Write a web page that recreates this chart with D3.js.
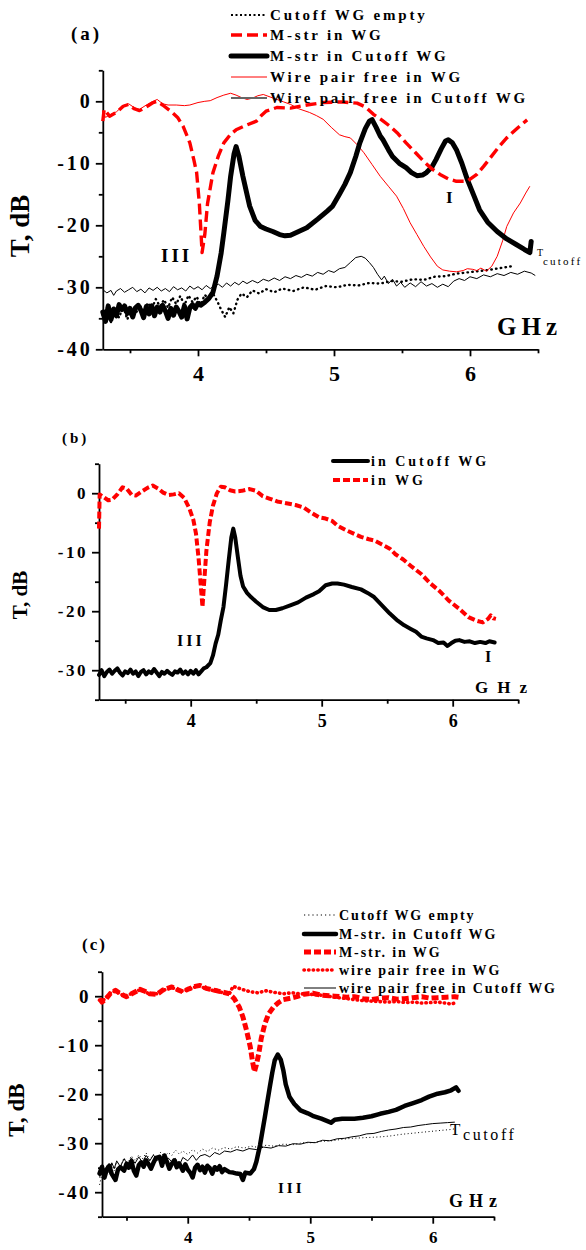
<!DOCTYPE html>
<html lang="en">
<head>
<meta charset="UTF-8">
<title>Transmission spectra</title>
<script src="https://d3js.org/d3.v7.min.js"></script>
<style>
  body { margin: 0; background: #fff; }
  svg text { font-family: "Liberation Serif", "Times New Roman", serif; fill: #000; }
  .axis path, .axis line { stroke: #000; stroke-width: 1.8; }
</style>
</head>
<body>
<script>
// ---------- data (frequency GHz, transmission dB) ----------
var freqDomain = [3.3, 6.5];
var freqMajor = [4, 5, 6];
var freqMinor = [3.5, 4.5, 5.5, 6.5];

// panel (a)
var aCutoffEmpty = [[3.30,-34.5],[3.33,-33.2],[3.36,-35.6],[3.39,-33.8],[3.42,-34.9],[3.45,-33.0],[3.48,-35.2],[3.51,-33.6],[3.54,-34.4],[3.57,-32.8],[3.60,-34.0],[3.63,-32.5],[3.66,-33.4],[3.69,-31.9],[3.72,-33.1],[3.75,-32.0],[3.78,-33.3],[3.81,-31.6],[3.84,-32.7],[3.87,-31.4],[3.90,-32.9],[3.93,-31.3],[3.96,-32.4],[3.99,-31.5],[4.02,-32.8],[4.05,-31.2],[4.08,-32.0],[4.11,-31.0],[4.14,-32.2],[4.17,-33.6],[4.20,-34.8],[4.23,-33.2],[4.26,-34.2],[4.29,-32.0],[4.32,-31.0],[4.36,-31.6],[4.40,-30.5],[4.45,-31.0],[4.50,-30.3],[4.56,-30.8],[4.62,-30.2],[4.70,-30.6],[4.78,-30.0],[4.86,-30.4],[4.94,-29.8],[5.02,-30.0],[5.10,-29.6],[5.18,-29.7],[5.26,-29.3],[5.34,-29.4],[5.42,-29.0],[5.50,-29.1],[5.58,-28.7],[5.66,-28.8],[5.74,-28.3],[5.82,-28.2],[5.90,-27.8],[5.98,-27.6],[6.06,-27.4],[6.14,-27.2],[6.22,-26.9],[6.31,-26.6]];
var aMstrWG = [[3.30,-3.2],[3.31,-1.3],[3.35,-2.4],[3.40,-1.8],[3.45,-0.8],[3.49,-0.5],[3.53,-1.2],[3.57,-1.5],[3.62,-0.9],[3.67,-0.2],[3.70,0.0],[3.74,-0.6],[3.80,-1.6],[3.85,-2.6],[3.89,-4.0],[3.94,-6.7],[3.97,-9.5],[3.99,-11.5],[4.01,-16.5],[4.03,-24.4],[4.05,-21.5],[4.07,-16.5],[4.11,-11.5],[4.15,-8.8],[4.19,-6.7],[4.24,-5.3],[4.28,-4.6],[4.35,-3.9],[4.43,-3.2],[4.47,-2.2],[4.50,-1.6],[4.58,-1.0],[4.68,-1.1],[4.80,-0.6],[4.92,-0.2],[5.05,-0.1],[5.17,-0.3],[5.23,-0.9],[5.29,-2.1],[5.35,-3.0],[5.41,-4.0],[5.47,-5.2],[5.53,-6.7],[5.60,-8.3],[5.66,-9.7],[5.72,-10.9],[5.78,-11.8],[5.84,-12.5],[5.90,-12.9],[5.98,-12.9],[6.05,-11.8],[6.10,-10.5],[6.15,-9.1],[6.21,-7.4],[6.27,-5.9],[6.35,-4.3],[6.42,-3.0]];
var aMstrCutoff = [[3.30,-34.0],[3.32,-35.5],[3.34,-33.0],[3.36,-35.2],[3.38,-33.5],[3.40,-34.6],[3.42,-32.8],[3.44,-33.6],[3.46,-33.0],[3.48,-34.2],[3.50,-33.4],[3.52,-34.8],[3.54,-33.3],[3.56,-32.9],[3.58,-33.7],[3.60,-34.9],[3.62,-33.1],[3.64,-34.3],[3.66,-33.0],[3.68,-34.6],[3.70,-33.2],[3.72,-34.0],[3.74,-32.9],[3.76,-33.8],[3.78,-35.0],[3.80,-33.4],[3.82,-34.5],[3.84,-33.2],[3.86,-33.9],[3.88,-34.8],[3.90,-33.0],[3.92,-35.1],[3.94,-33.3],[3.96,-32.8],[3.98,-33.4],[4.00,-32.6],[4.02,-32.9],[4.05,-32.4],[4.08,-31.8],[4.11,-30.8],[4.14,-28.2],[4.17,-24.5],[4.19,-21.2],[4.22,-16.0],[4.24,-12.1],[4.265,-8.5],[4.28,-7.3],[4.30,-8.8],[4.33,-12.1],[4.36,-15.0],[4.38,-16.9],[4.42,-19.2],[4.46,-20.2],[4.50,-20.6],[4.55,-21.0],[4.60,-21.5],[4.64,-21.7],[4.68,-21.6],[4.74,-21.0],[4.80,-20.4],[4.88,-19.0],[4.95,-17.7],[4.99,-16.9],[5.04,-15.0],[5.08,-13.4],[5.12,-11.5],[5.16,-8.9],[5.19,-6.7],[5.23,-4.4],[5.26,-3.2],[5.28,-2.95],[5.31,-4.2],[5.34,-5.6],[5.36,-6.2],[5.40,-7.8],[5.43,-8.9],[5.48,-10.0],[5.53,-10.7],[5.57,-11.5],[5.61,-12.0],[5.65,-11.9],[5.68,-11.5],[5.72,-10.6],[5.75,-9.4],[5.79,-7.6],[5.82,-6.4],[5.84,-6.2],[5.87,-6.7],[5.90,-7.8],[5.94,-10.0],[5.98,-12.6],[6.03,-15.3],[6.07,-17.5],[6.13,-19.5],[6.20,-21.0],[6.27,-22.2],[6.34,-23.1],[6.40,-23.9],[6.44,-24.4],[6.45,-22.6]];
var aWireWG = [[3.30,-1.6],[3.32,-2.6],[3.35,-2.2],[3.40,-1.7],[3.45,-0.7],[3.49,-0.4],[3.53,-1.0],[3.57,-1.3],[3.62,-0.6],[3.67,0.0],[3.70,0.3],[3.74,-0.4],[3.78,-0.6],[3.84,-0.6],[3.90,-0.7],[3.94,-0.6],[4.00,-0.2],[4.05,0.0],[4.09,0.1],[4.14,0.6],[4.19,1.0],[4.24,1.3],[4.28,1.0],[4.32,0.6],[4.36,0.3],[4.40,0.5],[4.44,0.9],[4.48,1.1],[4.53,0.7],[4.58,0.3],[4.63,-0.1],[4.68,-0.5],[4.74,-1.2],[4.82,-1.8],[4.87,-2.3],[4.92,-2.9],[4.98,-4.2],[5.04,-5.4],[5.08,-5.7],[5.12,-5.9],[5.17,-7.0],[5.22,-8.3],[5.28,-10.2],[5.34,-12.1],[5.40,-13.7],[5.46,-15.3],[5.51,-17.3],[5.56,-19.6],[5.61,-21.5],[5.66,-23.4],[5.71,-25.1],[5.76,-26.6],[5.80,-27.2],[5.85,-27.4],[5.90,-27.5],[5.95,-27.3],[5.98,-27.0],[6.02,-27.1],[6.05,-27.3],[6.08,-26.9],[6.12,-27.4],[6.16,-26.6],[6.20,-25.0],[6.24,-22.5],[6.27,-20.2],[6.32,-18.0],[6.37,-16.4],[6.41,-14.8],[6.44,-13.7]];
var aWireCutoff = [[3.30,-30.4],[3.33,-30.9],[3.36,-30.5],[3.38,-31.3],[3.40,-30.6],[3.43,-30.2],[3.46,-30.8],[3.49,-30.4],[3.52,-30.0],[3.55,-30.7],[3.58,-30.3],[3.61,-30.9],[3.64,-30.1],[3.67,-30.5],[3.70,-30.0],[3.73,-30.6],[3.76,-30.2],[3.79,-30.7],[3.82,-29.9],[3.85,-30.4],[3.88,-30.1],[3.91,-30.6],[3.94,-29.8],[3.97,-30.3],[4.00,-29.9],[4.03,-30.4],[4.06,-29.7],[4.09,-30.2],[4.12,-29.8],[4.15,-29.5],[4.18,-30.0],[4.21,-29.3],[4.24,-29.8],[4.27,-29.2],[4.30,-29.6],[4.33,-29.0],[4.36,-29.4],[4.40,-28.9],[4.44,-29.3],[4.48,-28.7],[4.52,-29.0],[4.56,-28.5],[4.60,-28.9],[4.64,-28.3],[4.68,-28.6],[4.72,-28.1],[4.76,-28.4],[4.80,-27.9],[4.84,-28.2],[4.88,-27.6],[4.92,-27.9],[4.96,-27.3],[5.00,-27.6],[5.04,-27.0],[5.08,-26.8],[5.12,-26.0],[5.16,-25.2],[5.20,-25.0],[5.23,-25.3],[5.26,-26.0],[5.29,-26.8],[5.32,-27.9],[5.35,-28.8],[5.37,-28.2],[5.40,-29.4],[5.43,-28.7],[5.46,-29.8],[5.49,-29.2],[5.52,-30.0],[5.56,-29.3],[5.60,-29.9],[5.64,-29.1],[5.68,-29.8],[5.72,-29.4],[5.76,-30.0],[5.80,-29.5],[5.84,-29.9],[5.88,-29.0],[5.92,-28.6],[5.96,-28.9],[6.00,-28.3],[6.05,-28.6],[6.10,-28.0],[6.15,-28.3],[6.20,-27.8],[6.25,-28.1],[6.30,-27.6],[6.35,-27.9],[6.40,-27.4],[6.45,-27.7],[6.48,-28.1]];

// panel (b)
var bWG = [[3.30,-6.0],[3.305,-0.2],[3.33,-0.6],[3.37,-1.2],[3.40,-1.1],[3.44,-0.2],[3.48,1.0],[3.51,0.8],[3.55,-0.3],[3.58,-0.4],[3.62,0.2],[3.67,0.9],[3.71,1.3],[3.75,0.8],[3.79,0.1],[3.83,-0.3],[3.87,-0.2],[3.91,0.0],[3.95,-0.8],[3.99,-2.6],[4.02,-4.5],[4.04,-6.8],[4.06,-11.0],[4.08,-16.5],[4.09,-19.3],[4.10,-16.0],[4.12,-9.7],[4.145,-5.0],[4.17,-2.1],[4.20,0.0],[4.23,1.1],[4.26,1.0],[4.30,0.5],[4.34,0.3],[4.39,0.4],[4.45,0.7],[4.50,0.4],[4.55,-0.5],[4.60,-0.9],[4.66,-1.4],[4.73,-1.7],[4.80,-2.0],[4.86,-2.4],[4.92,-3.3],[4.98,-4.1],[5.03,-4.3],[5.08,-4.7],[5.12,-5.5],[5.18,-6.2],[5.24,-6.8],[5.30,-7.4],[5.36,-7.8],[5.40,-8.0],[5.46,-8.7],[5.52,-9.4],[5.56,-10.3],[5.62,-11.2],[5.69,-12.5],[5.76,-13.7],[5.83,-15.3],[5.90,-16.6],[5.97,-18.2],[6.05,-19.6],[6.12,-21.0],[6.18,-21.6],[6.23,-21.9],[6.27,-21.3],[6.29,-20.7],[6.31,-21.2],[6.33,-21.3]];
var bCutoff = [[3.30,-30.8],[3.32,-30.0],[3.34,-31.0],[3.36,-30.3],[3.38,-29.9],[3.40,-30.6],[3.42,-30.1],[3.44,-29.7],[3.46,-30.4],[3.48,-30.9],[3.50,-30.2],[3.52,-30.5],[3.54,-29.9],[3.56,-30.6],[3.58,-30.2],[3.60,-31.0],[3.62,-30.3],[3.64,-30.0],[3.66,-30.7],[3.68,-30.2],[3.70,-30.5],[3.72,-29.8],[3.74,-30.4],[3.76,-31.0],[3.78,-30.3],[3.80,-30.6],[3.82,-30.1],[3.84,-30.5],[3.86,-30.8],[3.88,-30.2],[3.90,-30.4],[3.92,-29.9],[3.94,-30.6],[3.96,-30.2],[3.98,-30.7],[4.00,-30.1],[4.02,-30.6],[4.04,-30.0],[4.06,-30.7],[4.08,-30.2],[4.10,-29.7],[4.12,-29.5],[4.15,-28.8],[4.17,-27.5],[4.19,-25.5],[4.21,-24.0],[4.23,-21.5],[4.25,-19.3],[4.27,-15.5],[4.29,-11.4],[4.31,-7.5],[4.325,-6.0],[4.34,-7.5],[4.36,-10.8],[4.38,-14.0],[4.40,-15.8],[4.43,-16.9],[4.46,-17.6],[4.50,-18.4],[4.55,-19.3],[4.60,-19.8],[4.65,-19.8],[4.70,-19.5],[4.76,-19.0],[4.82,-18.5],[4.88,-17.7],[4.94,-17.1],[4.98,-16.6],[5.03,-15.6],[5.08,-15.3],[5.12,-15.3],[5.17,-15.5],[5.23,-15.9],[5.30,-16.3],[5.35,-16.9],[5.40,-17.6],[5.46,-19.0],[5.52,-20.4],[5.58,-21.6],[5.63,-22.4],[5.68,-23.0],[5.72,-23.5],[5.76,-24.3],[5.80,-24.6],[5.85,-24.9],[5.89,-25.4],[5.93,-25.3],[5.96,-25.9],[5.99,-25.4],[6.02,-25.0],[6.05,-24.9],[6.09,-25.2],[6.13,-25.1],[6.17,-25.4],[6.21,-25.2],[6.25,-25.4],[6.28,-25.1],[6.32,-25.3]];

// panel (c)
var cCutoffEmpty = [[3.28,-38.5],[3.30,-36.2],[3.32,-37.5],[3.34,-35.0],[3.36,-36.4],[3.38,-34.2],[3.40,-35.6],[3.42,-33.8],[3.45,-34.6],[3.48,-33.0],[3.51,-34.0],[3.54,-32.6],[3.57,-33.6],[3.60,-32.4],[3.63,-33.2],[3.66,-32.0],[3.69,-33.4],[3.72,-32.3],[3.75,-32.9],[3.78,-31.8],[3.81,-32.8],[3.84,-31.9],[3.87,-32.5],[3.90,-31.4],[3.93,-32.2],[3.96,-31.6],[4.00,-32.3],[4.04,-31.3],[4.08,-32.0],[4.12,-31.2],[4.16,-31.7],[4.20,-31.0],[4.25,-31.4],[4.30,-30.9],[4.35,-31.2],[4.40,-30.7],[4.46,-31.0],[4.52,-30.6],[4.58,-30.9],[4.64,-30.4],[4.70,-30.6],[4.78,-30.2],[4.86,-30.3],[4.94,-29.9],[5.02,-29.9],[5.10,-29.6],[5.18,-29.5],[5.26,-29.2],[5.34,-29.0],[5.42,-28.9],[5.50,-28.8],[5.58,-28.7],[5.66,-28.5],[5.74,-28.2],[5.82,-28.0],[5.90,-27.8],[5.98,-27.6],[6.06,-27.4],[6.15,-27.2],[6.19,-27.0]];
var cMstrCutoff = [[3.28,-36.2],[3.30,-34.8],[3.32,-37.0],[3.34,-35.3],[3.36,-34.6],[3.38,-36.3],[3.41,-37.5],[3.43,-35.4],[3.45,-34.9],[3.48,-35.6],[3.50,-34.2],[3.52,-35.0],[3.54,-33.7],[3.56,-35.6],[3.58,-36.6],[3.60,-34.5],[3.62,-33.9],[3.64,-34.8],[3.66,-33.5],[3.68,-34.3],[3.70,-35.2],[3.72,-34.0],[3.74,-33.0],[3.77,-32.8],[3.79,-34.6],[3.81,-32.5],[3.83,-33.8],[3.85,-35.2],[3.87,-34.2],[3.89,-33.5],[3.91,-34.9],[3.93,-34.1],[3.96,-35.6],[3.98,-34.3],[4.00,-35.4],[4.02,-36.0],[4.04,-37.0],[4.06,-35.0],[4.08,-34.4],[4.10,-35.5],[4.12,-34.8],[4.14,-36.0],[4.16,-34.6],[4.18,-35.1],[4.20,-36.2],[4.22,-34.9],[4.24,-35.4],[4.26,-34.7],[4.28,-35.9],[4.30,-35.3],[4.32,-35.6],[4.34,-35.9],[4.37,-36.0],[4.40,-36.2],[4.43,-36.3],[4.45,-37.5],[4.47,-36.0],[4.51,-36.2],[4.54,-35.3],[4.56,-33.8],[4.59,-30.4],[4.61,-27.5],[4.63,-24.6],[4.65,-21.5],[4.67,-18.5],[4.69,-15.6],[4.71,-13.1],[4.735,-11.9],[4.76,-13.0],[4.78,-15.1],[4.80,-18.0],[4.83,-20.5],[4.87,-22.0],[4.92,-23.3],[4.98,-23.9],[5.02,-24.4],[5.09,-25.0],[5.13,-25.4],[5.17,-25.8],[5.20,-25.2],[5.26,-25.0],[5.36,-25.0],[5.43,-24.8],[5.50,-24.5],[5.57,-24.0],[5.64,-23.6],[5.70,-23.2],[5.77,-22.4],[5.84,-21.8],[5.91,-21.2],[5.97,-20.5],[6.04,-19.9],[6.10,-19.6],[6.15,-19.2],[6.19,-18.6],[6.21,-19.3]];
var cMstrWG = [[3.28,-0.5],[3.30,-1.2],[3.33,-0.6],[3.37,0.6],[3.41,1.2],[3.45,0.5],[3.50,-0.1],[3.55,0.6],[3.61,1.4],[3.65,1.0],[3.69,0.5],[3.75,0.4],[3.80,1.3],[3.87,1.9],[3.92,1.3],[3.96,0.9],[4.01,1.5],[4.06,2.0],[4.10,2.2],[4.15,1.6],[4.20,1.3],[4.24,1.1],[4.29,0.8],[4.34,0.5],[4.38,-0.5],[4.42,-2.2],[4.45,-4.2],[4.48,-7.0],[4.51,-10.3],[4.53,-13.5],[4.545,-15.4],[4.56,-14.0],[4.58,-11.7],[4.60,-8.6],[4.63,-5.6],[4.66,-3.6],[4.70,-2.2],[4.74,-1.3],[4.78,-0.7],[4.84,-0.4],[4.89,-0.1],[4.95,0.4],[5.02,0.6],[5.09,0.2],[5.20,0.0],[5.30,-0.2],[5.36,-0.1],[5.43,-0.5],[5.50,-0.7],[5.57,-0.4],[5.64,-0.3],[5.71,-0.6],[5.77,-0.5],[5.84,-0.3],[5.91,-0.1],[5.98,-0.4],[6.04,-0.3],[6.11,-0.2],[6.18,-0.1],[6.21,-0.2]];
var cWireWG = [[3.28,-0.8],[3.30,-1.0],[3.33,-0.4],[3.37,0.7],[3.41,1.1],[3.45,0.4],[3.50,0.0],[3.55,0.7],[3.61,1.3],[3.65,0.9],[3.69,0.4],[3.75,0.5],[3.80,1.2],[3.87,1.8],[3.92,1.2],[3.96,1.0],[4.01,1.4],[4.06,1.9],[4.10,2.1],[4.15,1.5],[4.20,1.2],[4.24,1.0],[4.29,0.7],[4.34,0.5],[4.37,2.0],[4.42,1.6],[4.47,1.2],[4.51,0.9],[4.57,0.7],[4.64,1.1],[4.70,0.8],[4.78,0.5],[4.85,0.7],[4.92,0.5],[5.00,0.4],[5.09,0.2],[5.20,-0.2],[5.30,-0.5],[5.36,-0.7],[5.43,-0.9],[5.50,-1.0],[5.57,-1.1],[5.64,-1.2],[5.71,-1.1],[5.78,-1.3],[5.85,-1.2],[5.91,-1.4],[5.98,-1.3],[6.04,-1.2],[6.10,-1.4],[6.15,-1.6],[6.19,-1.3]];
var cWireCutoff = [[3.28,-37.0],[3.30,-35.5],[3.32,-36.8],[3.34,-34.6],[3.36,-35.9],[3.38,-34.0],[3.40,-35.2],[3.42,-33.6],[3.45,-34.8],[3.48,-33.2],[3.51,-34.3],[3.54,-33.0],[3.57,-34.1],[3.60,-32.8],[3.63,-33.9],[3.66,-32.5],[3.69,-33.6],[3.72,-32.4],[3.75,-33.5],[3.78,-32.9],[3.81,-34.2],[3.84,-33.0],[3.87,-33.8],[3.90,-33.1],[3.93,-34.6],[3.96,-32.9],[4.00,-33.6],[4.04,-32.4],[4.07,-33.5],[4.10,-32.6],[4.14,-32.3],[4.18,-32.8],[4.22,-31.9],[4.26,-32.3],[4.30,-31.6],[4.35,-31.8],[4.40,-31.3],[4.45,-31.6],[4.50,-31.1],[4.56,-31.3],[4.62,-30.8],[4.68,-31.0],[4.74,-30.5],[4.80,-30.6],[4.86,-30.1],[4.92,-30.2],[4.98,-29.8],[5.04,-29.9],[5.10,-29.4],[5.16,-29.5],[5.22,-29.1],[5.28,-29.0],[5.34,-28.7],[5.40,-28.5],[5.46,-28.1],[5.52,-28.0],[5.58,-27.6],[5.64,-27.3],[5.70,-27.1],[5.76,-26.8],[5.82,-26.7],[5.88,-26.4],[5.94,-26.2],[6.00,-26.0],[6.06,-25.9],[6.12,-25.8],[6.18,-25.7]];

// ---------- line styles ----------
var st = {
    dotBlack:   {stroke: "#000", width: 2.4, dash: "0.5,4.3", cap: "round"},
    dashRedA:   {stroke: "#f00", width: 3.4, dash: "11,5", cap: "butt"},
    thickBlack: {stroke: "#000", width: 5, dash: null, cap: "round"},
    thinRed:    {stroke: "#f00", width: 1, dash: null, cap: "butt"},
    thinBlack:  {stroke: "#000", width: 1, dash: null, cap: "butt"},
    thinGray:   {stroke: "#666", width: 2, dash: null, cap: "butt"},
    blackB:     {stroke: "#000", width: 4, dash: null, cap: "round"},
    dashRedB:   {stroke: "#f00", width: 4, dash: "7,3", cap: "butt"},
    blackC:     {stroke: "#000", width: 4.5, dash: null, cap: "round"},
    dashRedC:   {stroke: "#f00", width: 5, dash: "7,3", cap: "butt"},
    dotRedC:    {stroke: "#f00", width: 3.6, dash: "0.4,4.2", cap: "round"},
    dotThin:    {stroke: "#000", width: 1, dash: "1,2.5", cap: "butt"}
};

var svg = d3.select("body").append("svg")
    .attr("width", 586).attr("height", 1250);

function styled(sel, s) {
    sel.attr("fill", "none").attr("stroke", s.stroke).attr("stroke-width", s.width)
       .attr("stroke-linecap", s.cap).attr("stroke-linejoin", "round");
    if (s.dash) sel.attr("stroke-dasharray", s.dash);
    return sel;
}

function txt(x, y, str, size, opts) {
    opts = opts || {};
    var t = svg.append("text").attr("x", x).attr("y", y).text(str)
        .attr("font-size", size)
        .attr("font-weight", opts.normal ? "normal" : "bold")
        .style("letter-spacing", (opts.ls || 0) + "px");
    if (opts.anchor) t.attr("text-anchor", opts.anchor);
    if (opts.rotate) t.attr("transform", "rotate(-90," + x + "," + y + ")");
    return t;
}

function drawPanel(p) {
    var x = d3.scaleLinear().domain(freqDomain).range(p.xr);
    var y = d3.scaleLinear().domain(p.yd).range(p.yr);
    var g = svg.append("g");

    // minor ticks
    g.append("g").attr("class", "axis")
        .attr("transform", "translate(" + p.xr[0] + ",0)")
        .call(d3.axisLeft(y).tickValues(p.yMinor).tickSize(4).tickFormat(""))
        .call(function (s) { s.select(".domain").remove(); });
    g.append("g").attr("class", "axis")
        .attr("transform", "translate(0," + p.yr[0] + ")")
        .call(d3.axisBottom(x).tickValues(freqMinor).tickSize(4).tickFormat(""))
        .call(function (s) { s.select(".domain").remove(); });

    // major axes
    var ya = g.append("g").attr("class", "axis")
        .attr("transform", "translate(" + p.xr[0] + ",0)")
        .call(d3.axisLeft(y).tickValues(p.yMajor).tickSize(7).tickSizeOuter(0)
              .tickPadding(p.yPad).tickFormat(function (d) { return String(d); }));
    ya.selectAll("text").attr("font-size", p.yFont).attr("font-weight", "bold")
        .attr("fill", "#000").style("letter-spacing", p.yLs + "px")
        .attr("font-family", "Liberation Serif");

    var xa = g.append("g").attr("class", "axis")
        .attr("transform", "translate(0," + p.yr[0] + ")")
        .call(d3.axisBottom(x).tickValues(freqMajor).tickSize(7).tickSizeOuter(0)
              .tickPadding(p.xPad).tickFormat(d3.format("d")));
    xa.selectAll("text").attr("font-size", p.xFont).attr("font-weight", "bold")
        .attr("fill", "#000").attr("font-family", "Liberation Serif");

    var line = d3.line().x(function (d) { return x(d[0]); }).y(function (d) { return y(d[1]); });
    p.series.forEach(function (s) {
        styled(g.append("path").datum(s.data).attr("d", line), s.style);
    });

    // legend
    p.legend.forEach(function (e, i) {
        var ly = p.legRows[i];
        styled(svg.append("line").attr("x1", p.legX[0]).attr("x2", p.legX[1])
            .attr("y1", ly).attr("y2", ly), e.style);
        txt(p.legX[1] + 3, ly + p.legFont * 0.33, e.label, p.legFont, {ls: p.legLs});
    });
}

// ---------- panel (a) ----------
drawPanel({
    xr: [102.8, 538], yd: [-40, 5], yr: [349.3, 70.3],
    yMajor: [-40, -30, -20, -10, 0], yMinor: [-35, -25, -15, -5, 5],
    yPad: 3, yFont: 20, yLs: 3, xPad: 9, xFont: 22,
    series: [
        {data: aCutoffEmpty, style: st.dotBlack},
        {data: aWireCutoff, style: st.thinBlack},
        {data: aWireWG, style: st.thinRed},
        {data: aMstrCutoff, style: st.thickBlack},
        {data: aMstrWG, style: st.dashRedA}
    ],
    legX: [231, 267], legRows: [15, 35, 56, 77, 98], legFont: 15, legLs: 2.8,
    legend: [
        {label: "Cutoff WG empty", style: {stroke: "#000", width: 2, dash: "2,2.5", cap: "butt"}},
        {label: "M-str in WG", style: st.dashRedA},
        {label: "M-str in Cutoff WG", style: {stroke: "#000", width: 5, dash: null, cap: "round"}},
        {label: "Wire pair free in WG", style: st.thinRed},
        {label: "Wire pair free in Cutoff WG", style: st.thinGray}
    ]
});
txt(71, 40, "(a)", 19, {ls: 3});
txt(29, 226, "T, dB", 27, {anchor: "middle", rotate: true});
txt(497, 335, "GHz", 25, {ls: 5});
txt(161, 262, "III", 19, {ls: 3});
txt(446, 203, "I", 17);
txt(537, 256, "T", 10, {normal: true});
txt(543, 265, "cutoff", 11, {normal: true, ls: 2.2});

// ---------- panel (b) ----------
drawPanel({
    xr: [99, 518.2], yd: [-35, 5], yr: [699.7, 463.7],
    yMajor: [-30, -20, -10, 0], yMinor: [-35, -25, -15, -5, 5],
    yPad: 4, yFont: 17, yLs: 2.5, xPad: 8, xFont: 18,
    series: [
        {data: bWG, style: st.dashRedB},
        {data: bCutoff, style: st.blackB}
    ],
    legX: [333, 368], legRows: [461, 480], legFont: 14, legLs: 3,
    legend: [
        {label: "in Cutoff WG", style: st.blackB},
        {label: "in WG", style: st.dashRedB}
    ]
});
txt(62, 443, "(b)", 15, {ls: 3});
txt(27, 595, "T, dB", 21, {anchor: "middle", rotate: true});
txt(475, 693, "GHz", 17, {ls: 9});
txt(177, 646, "III", 16, {ls: 3});
txt(485, 662, "I", 16);

// ---------- panel (c) ----------
drawPanel({
    xr: [102, 494], yd: [-45, 5], yr: [1216.7, 971.7],
    yMajor: [-40, -30, -20, -10, 0], yMinor: [-45, -35, -25, -15, -5, 5],
    yPad: 4, yFont: 19, yLs: 2.5, xPad: 7, xFont: 17,
    series: [
        {data: cCutoffEmpty, style: st.dotThin},
        {data: cWireCutoff, style: st.thinBlack},
        {data: cWireWG, style: st.dotRedC},
        {data: cMstrWG, style: st.dashRedC},
        {data: cMstrCutoff, style: st.blackC}
    ],
    legX: [304, 336], legRows: [915, 934, 952, 970, 988], legFont: 14, legLs: 1.9,
    legend: [
        {label: "Cutoff WG empty", style: {stroke: "#000", width: 1.2, dash: "1.2,3", cap: "butt"}},
        {label: "M-str. in Cutoff WG", style: st.blackC},
        {label: "M-str. in WG", style: st.dashRedC},
        {label: "wire pair free in WG", style: st.dotRedC},
        {label: "wire pair free  in Cutoff WG", style: st.thinBlack}
    ]
});
txt(82, 950, "(c)", 17, {ls: 2});
txt(24, 1110, "T, dB", 23, {anchor: "middle", rotate: true});
txt(449, 1207, "GHz", 18, {ls: 6});
txt(278, 1193, "III", 15, {ls: 3});
txt(450, 1135, "T", 17, {normal: true});
txt(463, 1140, "cutoff", 16, {normal: true, ls: 2.6});
</script>
</body>
</html>
